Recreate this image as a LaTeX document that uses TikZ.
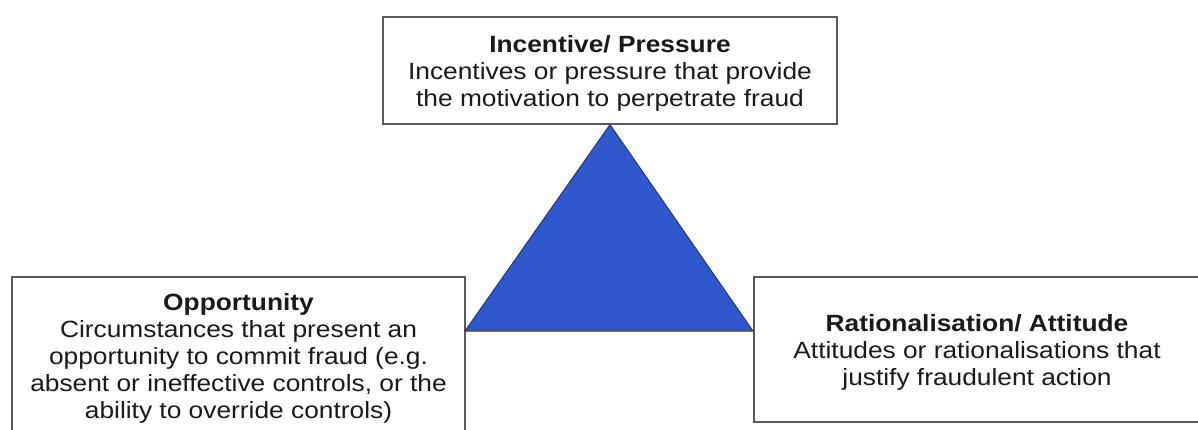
\documentclass[tikz,border=0pt]{standalone}
\usepackage{fontspec}
\setmainfont{Liberation Sans}[FakeStretch=1.12]
\definecolor{boxline}{HTML}{5A5A5A}
\definecolor{triblue}{HTML}{2E58CC}
\definecolor{triline}{HTML}{3A3A3A}
\definecolor{ink}{HTML}{1A1A1A}
\begin{document}
\begin{tikzpicture}[x=1pt,y=-1pt,
  box/.style={draw=boxline, line width=1.3pt, fill=white, rectangle, inner sep=0pt},
  txt/.style={inner sep=0pt, align=center, text=ink, yshift=-2.5pt,
    font=\fontsize{23.5}{27}\selectfont}]
\useasboundingbox (0,0) rectangle (1198,429);
\clip (0,0) rectangle (1198,429);
\fill[white] (0,0) rectangle (1198,429);

% the three corners of the fraud triangle
\node[box, minimum width=454pt, minimum height=107pt] (incentive) at (610,70.5) {};
\node[box, minimum width=453pt, minimum height=158pt] (opportunity) at (238.5,356) {};
\node[box, minimum width=446pt, minimum height=145pt] (rational) at (977,349.5) {};

\node[txt] (incentiveText) at (incentive.center)
  {{\bfseries Incentive/ Pressure}\\Incentives or pressure that provide\\the motivation to perpetrate fraud};
\node[txt] (opportunityText) at (opportunity.center)
  {{\bfseries Opportunity}\\Circumstances that present an\\opportunity to commit fraud (e.g.\\absent or ineffective controls, or the\\ability to override controls)};
\node[txt] (rationalText) at (rational.center)
  {{\bfseries Rationalisation/ Attitude}\\Attitudes or rationalisations that\\justify fraudulent action};

% the triangle between them
\coordinate (baseL) at (465,331);
\coordinate (baseR) at (753,331);
\filldraw[fill=triblue, draw=triline, line width=1pt, line join=miter]
  (incentive.south) -- (baseR) -- (baseL) -- cycle;
\end{tikzpicture}
\end{document}
